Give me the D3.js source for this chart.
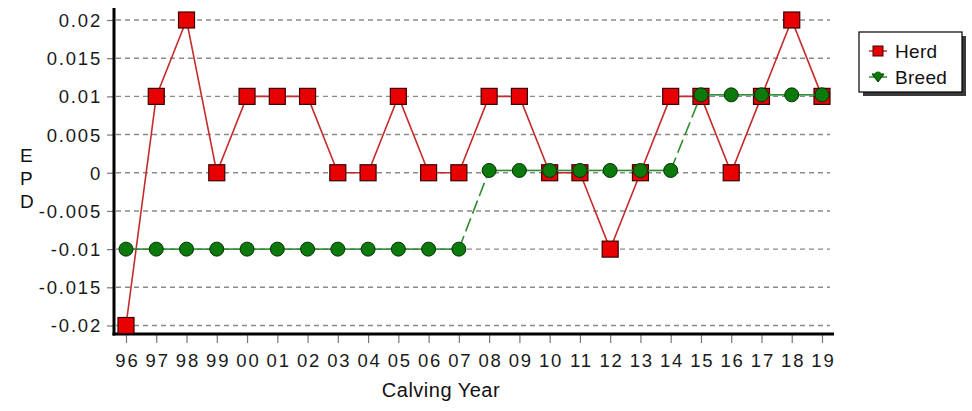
<!DOCTYPE html>
<html><head><meta charset="utf-8">
<script src="https://cdn.jsdelivr.net/npm/d3@7/dist/d3.min.js"></script>
<style>body{margin:0;background:#fff}svg{display:block}text{font-family:"Liberation Sans",Arial,sans-serif}</style>
</head><body><svg id="c" width="972" height="411"></svg>
<script>
const years = ["96","97","98","99","00","01","02","03","04","05","06","07","08","09","10","11","12","13","14","15","16","17","18","19"];
const herd = [-0.02,0.01,0.02,0,0.01,0.01,0.01,0,0,0.01,0,0,0.01,0.01,0,0,-0.01,0,0.01,0.01,0,0.01,0.02,0.01];
const breed = [-0.01,-0.01,-0.01,-0.01,-0.01,-0.01,-0.01,-0.01,-0.01,-0.01,-0.01,-0.01,0.0003,0.0003,0.0003,0.0003,0.0003,0.0003,0.0003,0.0102,0.0102,0.0102,0.0102,0.0102];
const yTicks = [0.02,0.015,0.01,0.005,0,-0.005,-0.01,-0.015,-0.02];
const yTickLabels = ["0.02","0.015","0.01","0.005","0","-0.005","-0.01","-0.015","-0.02"];
const seriesNames = ["Herd","Breed"];

const svg = d3.select("#c");
const x = d3.scalePoint().domain(years).range([126,822]);
const y = d3.scaleLinear().domain([-0.02,0.02]).range([325.5,20]);
const pL = 114, pR = 834, pT = 8, pB = 334;

// grid
svg.append("g").selectAll("line").data(yTicks).join("line")
  .attr("x1",pL+2).attr("x2",830).attr("y1",d=>y(d)).attr("y2",d=>y(d))
  .attr("stroke","#8a8a8a").attr("stroke-width",1.4).attr("stroke-dasharray","5,4");

// y axis
const ya = svg.append("g").attr("transform",`translate(${pL},0)`)
  .call(d3.axisLeft(y).tickValues(yTicks).tickFormat((d,i)=>yTickLabels[i]).tickSize(7).tickPadding(5));
ya.select(".domain").remove();
ya.selectAll(".tick line").attr("stroke","#777").attr("stroke-width",1.2);
ya.selectAll(".tick text").attr("font-size",18.5).attr("fill","#1a1a1a").attr("letter-spacing","1.8px")
  .attr("font-family","'Liberation Sans',Arial,sans-serif").attr("dy","0.35em");

// x axis
const xa = svg.append("g").attr("transform",`translate(0,${pB+1})`)
  .call(d3.axisBottom(x).tickSize(8).tickPadding(11));
xa.select(".domain").remove();
xa.selectAll(".tick line").attr("stroke","#777").attr("stroke-width",1.2);
xa.selectAll(".tick text").attr("font-size",18.5).attr("fill","#1a1a1a").attr("letter-spacing","1.8px")
  .attr("font-family","'Liberation Sans',Arial,sans-serif").attr("dx","0.9px");

// frame axes
svg.append("line").attr("x1",pL).attr("x2",pL).attr("y1",pT).attr("y2",pB+1.5).attr("stroke","#000").attr("stroke-width",3);
svg.append("line").attr("x1",pL-1.5).attr("x2",pR).attr("y1",pB).attr("y2",pB).attr("stroke","#000").attr("stroke-width",3);

// herd line
const line = d3.line().x((d,i)=>x(years[i])).y(d=>y(d));
svg.append("path").datum(herd).attr("d",line).attr("fill","none").attr("stroke","#c62b2b").attr("stroke-width",1.6);
svg.append("g").selectAll("rect").data(herd).join("rect")
  .attr("x",(d,i)=>x(years[i])-8).attr("y",d=>y(d)-8).attr("width",16).attr("height",16)
  .attr("fill","#e80000").attr("stroke","#3a0000").attr("stroke-width",1.2);

// breed line segments
const segs = d3.pairs(breed.map((v,i)=>[x(years[i]),y(v)]));
svg.append("g").selectAll("line").data(segs).join("line")
  .attr("x1",d=>d[0][0]).attr("y1",d=>d[0][1]).attr("x2",d=>d[1][0]).attr("y2",d=>d[1][1])
  .attr("stroke","#2e8b2e").attr("stroke-width",1.6)
  .attr("stroke-dasharray",d=>Math.abs(d[0][1]-d[1][1])>3?"14,5":null);
svg.append("g").selectAll("circle").data(breed).join("circle")
  .attr("cx",(d,i)=>x(years[i])).attr("cy",d=>y(d)).attr("r",7)
  .attr("fill","#0b7a0b").attr("stroke","#053005").attr("stroke-width",1);

// axis titles
const epd = ["E","P","D"];
svg.append("g").selectAll("text").data(epd).join("text")
  .attr("x",20).attr("y",(d,i)=>162+i*23).attr("font-size",19).attr("fill","#111").text(d=>d);
svg.append("text").attr("x",441).attr("y",397).attr("text-anchor","middle").attr("font-size",20)
  .attr("letter-spacing","0.5px").attr("fill","#111").text("Calving Year");

// legend
const lg = svg.append("g");
lg.append("rect").attr("x",863).attr("y",36).attr("width",103).attr("height",60).attr("fill","#3a3a3a");
lg.append("rect").attr("x",859).attr("y",32).attr("width",103).attr("height",60).attr("fill","#fff").attr("stroke","#000").attr("stroke-width",1.2);
lg.append("line").attr("x1",869).attr("x2",887).attr("y1",51).attr("y2",51).attr("stroke","#c62b2b").attr("stroke-width",1.5);
lg.append("rect").attr("x",873).attr("y",46).attr("width",10).attr("height",10).attr("fill","#e80000").attr("stroke","#3a0000").attr("stroke-width",1);
lg.append("line").attr("x1",869).attr("x2",887).attr("y1",77).attr("y2",77).attr("stroke","#2e8b2e").attr("stroke-width",1.5);
lg.append("path").attr("d","M872,74 L884,74 L878,82 Z").attr("fill","#0b7a0b").attr("stroke","#053005").attr("stroke-width",1);
lg.append("circle").attr("cx",878).attr("cy",75).attr("r",3.5).attr("fill","#0b7a0b");
lg.selectAll("text.l").data(seriesNames).join("text").attr("class","l")
  .attr("x",895).attr("y",(d,i)=>58+i*26).attr("font-size",19).attr("fill","#111").attr("letter-spacing","0.3px").text(d=>d);
</script></body></html>
